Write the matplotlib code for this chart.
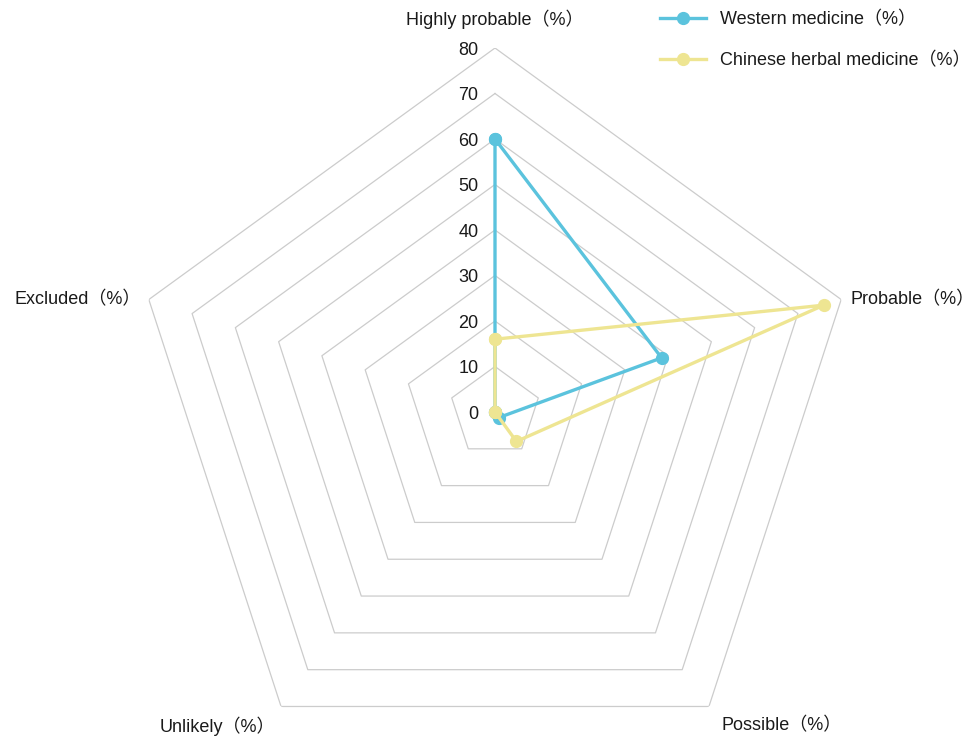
import numpy as np
import matplotlib.pyplot as plt
from matplotlib.lines import Line2D

# Categories (clockwise from top) and series values (%)
categories = ['Highly probable（%）', 'Probable（%）', 'Possible（%）',
              'Unlikely（%）', 'Excluded（%）']
western = [60, 38.5, 1.5, 0, 0]
herbal = [16, 76, 8, 0, 0]
ring_levels = [10, 20, 30, 40, 50, 60, 70, 80]
tick_labels = ['0', '10', '20', '30', '40', '50', '60', '70', '80']

BLUE = '#5bc3dd'
YELLOW = '#eee592'
GRID = '#cccccc'
TEXT = '#1a1a1a'
FS = 13
FONT = ['Liberation Sans', 'Noto Sans CJK SC', 'DejaVu Sans']
plt.rcParams['font.family'] = FONT

fig = plt.figure(figsize=(9.74, 7.38), dpi=100)
# center ~ (495, 412) px, outer radius ~364 px
cx, cy, R = 495, 412, 364
W, H = 974, 738
ax = fig.add_axes([(cx - R) / W, (H - cy - R) / H, 2 * R / W, 2 * R / H],
                  projection='polar')
ax.set_theta_offset(np.pi / 2)
ax.set_theta_direction(-1)
ax.set_ylim(0, 80)
ax.grid(False)
ax.set_xticks([])
ax.set_yticks([])
ax.spines['polar'].set_visible(False)
ax.patch.set_alpha(0)

n = len(categories)
angles = np.linspace(0, 2 * np.pi, n, endpoint=False)
closed = np.append(angles, angles[0])

# pentagon rings
for lvl in ring_levels:
    ax.plot(closed, [lvl] * (n + 1), color=GRID, lw=0.9, zorder=1)

# series
def close(vals):
    return list(vals) + [vals[0]]

ax.plot(closed, close(western), color=BLUE, lw=2.4, marker='o', ms=8.5,
        zorder=3, clip_on=False)
ax.plot(closed, close(herbal), color=YELLOW, lw=2.4, marker='o', ms=8.5,
        zorder=4, clip_on=False)

# radial tick labels along top axis
for i, lab in enumerate(tick_labels):
    ax.annotate(lab, xy=(0, i * 10), xytext=(-12, -1.5), textcoords='offset points',
                ha='right', va='center', fontsize=13, color=TEXT)

# axis names
label_pos = [
    ((0, 0), 'center', 'bottom', 14),
    ((7, 0), 'left', 'center', 0),
    ((9, -14), 'left', 'center', 0),
    ((-4, -14), 'right', 'center', 0),
    ((-6, 0), 'right', 'center', 0),
]
for ang, name, (off, ha, va, dy) in zip(angles, categories, label_pos):
    ax.annotate(name, xy=(ang, 80), xytext=(off[0], off[1] + dy),
                textcoords='offset points', ha=ha, va=va,
                fontsize=FS, color=TEXT, annotation_clip=False)

# legend
handles = [Line2D([], [], color=BLUE, lw=2.4, marker='o', ms=8.5),
           Line2D([], [], color=YELLOW, lw=2.4, marker='o', ms=8.5)]
fig.legend(handles, ['Western medicine（%）', 'Chinese herbal medicine（%）'],
           loc='upper left', bbox_to_anchor=(660 / W, 1 - 11 / H),
           frameon=False, fontsize=FS, handlelength=2.55,
           handletextpad=0.75, labelspacing=1.3, borderpad=0,
           borderaxespad=0, labelcolor=TEXT)

fig.savefig('out.png', dpi=100)
